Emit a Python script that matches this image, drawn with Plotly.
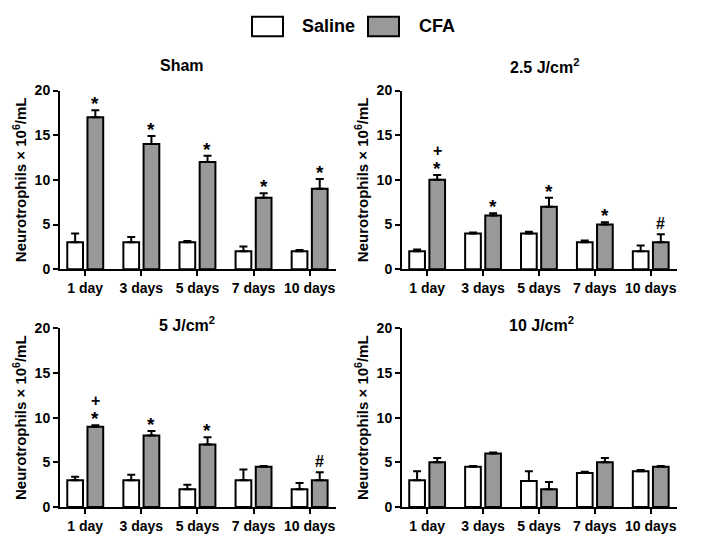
import plotly.graph_objects as go

W, H = 721, 549

categories = ["1 day", "3 days", "5 days", "7 days", "10 days"]

panel_titles = ["Sham", "2.5 J/cm<sup>2</sup>", "5 J/cm<sup>2</sup>", "10 J/cm<sup>2</sup>"]

sham_saline = [3.0, 3.0, 3.0, 2.0, 2.0]
sham_saline_err = [1.0, 0.6, 0.15, 0.55, 0.15]
sham_cfa = [17.0, 14.0, 12.0, 8.0, 9.0]
sham_cfa_err = [0.8, 0.9, 0.7, 0.5, 1.1]

j25_saline = [2.0, 4.0, 4.0, 3.0, 2.0]
j25_saline_err = [0.2, 0.1, 0.2, 0.2, 0.65]
j25_cfa = [10.0, 6.0, 7.0, 5.0, 3.0]
j25_cfa_err = [0.55, 0.25, 1.0, 0.25, 0.9]

j5_saline = [3.0, 3.0, 2.0, 3.0, 2.0]
j5_saline_err = [0.4, 0.6, 0.5, 1.2, 0.7]
j5_cfa = [9.0, 8.0, 7.0, 4.5, 3.0]
j5_cfa_err = [0.15, 0.5, 0.8, 0.1, 0.9]

j10_saline = [3.0, 4.5, 2.9, 3.8, 4.0]
j10_saline_err = [1.0, 0.1, 1.1, 0.15, 0.15]
j10_cfa = [5.0, 6.0, 2.0, 5.0, 4.5]
j10_cfa_err = [0.5, 0.1, 0.8, 0.5, 0.1]

sham_marks = [["*"], ["*"], ["*"], ["*"], ["*"]]
j25_marks = [["*", "+"], ["*"], ["*"], ["*"], ["#"]]
j5_marks = [["*", "+"], ["*"], ["*"], [], ["#"]]
j10_marks = [[], [], [], [], []]

panels = [
    (sham_saline, sham_saline_err, sham_cfa, sham_cfa_err, sham_marks),
    (j25_saline, j25_saline_err, j25_cfa, j25_cfa_err, j25_marks),
    (j5_saline, j5_saline_err, j5_cfa, j5_cfa_err, j5_marks),
    (j10_saline, j10_saline_err, j10_cfa, j10_cfa_err, j10_marks),
]

FONT = "Liberation Sans, Arial, sans-serif"
GRAY = "#999999"

# pixel layout of plot areas: (left, right, top, bottom)
areas = [(60, 336, 85, 269), (402, 677, 85, 269), (60, 336, 330, 514), (402, 677, 330, 514)]
title_pos = [(182, 59), (544, 60), (187, 325), (541, 325)]

fig = go.Figure()
layout = dict(
    width=W, height=H, margin=dict(l=0, r=0, t=0, b=0),
    paper_bgcolor="white", plot_bgcolor="white",
    barmode="group", bargap=0.28, bargroupgap=0.22,
    showlegend=False,
    font=dict(family=FONT, color="black"),
)
annotations = []
for i, (sal, sal_e, cfa, cfa_e, marks) in enumerate(panels):
    n = "" if i == 0 else str(i + 1)
    xa, ya = "x" + n, "y" + n
    common = dict(marker_line_color="black", marker_line_width=2, xaxis=xa, yaxis=ya)
    fig.add_trace(go.Bar(x=categories, y=sal, name="Saline", marker_color="white",
                         error_y=dict(type="data", array=sal_e, arrayminus=[0] * 5,
                                      symmetric=False, color="black", thickness=2, width=4),
                         **common))
    fig.add_trace(go.Bar(x=categories, y=cfa, name="CFA", marker_color=GRAY,
                         error_y=dict(type="data", array=cfa_e, arrayminus=[0] * 5,
                                      symmetric=False, color="black", thickness=2, width=4),
                         **common))
    l, r, t, b = areas[i]
    layout["xaxis" + n] = dict(
        domain=[l / W, r / W], anchor=ya, type="category", range=[-0.45, 4.47],
        showline=True, linecolor="black", linewidth=2, ticks="outside", ticklen=5,
        tickwidth=2, tickcolor="black", showgrid=False, zeroline=False,
        tickfont=dict(family=FONT, size=14, color="black", weight="bold"),
    )
    layout["yaxis" + n] = dict(
        domain=[1 - b / H, 1 - t / H], anchor=xa, range=[0, 20],
        tickvals=[0, 5, 10, 15, 20],
        showline=True, linecolor="black", linewidth=2, ticks="outside", ticklen=5,
        tickwidth=2, tickcolor="black", showgrid=False, zeroline=False,
        tickfont=dict(family=FONT, size=14, color="black", weight="bold"),
        title=dict(text="Neurotrophils × 10<sup>6</sup>/mL", standoff=4,
                   font=dict(family=FONT, size=15, color="black", weight="bold")),
    )
    tx, ty = title_pos[i]
    annotations.append(dict(text=panel_titles[i], x=tx / W, y=1 - ty / H, xref="paper", yref="paper",
                            showarrow=False, xanchor="center", yanchor="middle",
                            font=dict(family=FONT, size=16, color="black", weight="bold")))
    for k, ms in enumerate(marks):
        for j, m in enumerate(ms):
            is_star = m == "*"
            annotations.append(dict(
                text=m, x=k, y=cfa[k] + cfa_e[k], xref=xa, yref=ya, showarrow=False,
                xanchor="center", yanchor="bottom", xshift=10,
                yshift=(-6 if is_star else 0) + 14 * j,
                font=dict(family=FONT, size=19 if is_star else 16, color="black", weight="bold")))

# legend drawn at top
shapes = [
    dict(type="rect", xref="paper", yref="paper", x0=252 / W, x1=283 / W, y0=1 - 29 / H, y1=1 - 9 / H,
         line=dict(color="black", width=2), fillcolor="white"),
    dict(type="rect", xref="paper", yref="paper", x0=368 / W, x1=399 / W, y0=1 - 29 / H, y1=1 - 9 / H,
         line=dict(color="black", width=2), fillcolor=GRAY),
]
annotations.append(dict(text="Saline", x=300 / W, y=1 - 19 / H, xref="paper", yref="paper", showarrow=False,
                        xanchor="left", yanchor="middle",
                        font=dict(family=FONT, size=18, color="black", weight="bold")))
annotations.append(dict(text="CFA", x=417 / W, y=1 - 19 / H, xref="paper", yref="paper", showarrow=False,
                        xanchor="left", yanchor="middle",
                        font=dict(family=FONT, size=18, color="black", weight="bold")))
layout["annotations"] = annotations
layout["shapes"] = shapes
fig.update_layout(**layout)
fig.write_html("out.html")
